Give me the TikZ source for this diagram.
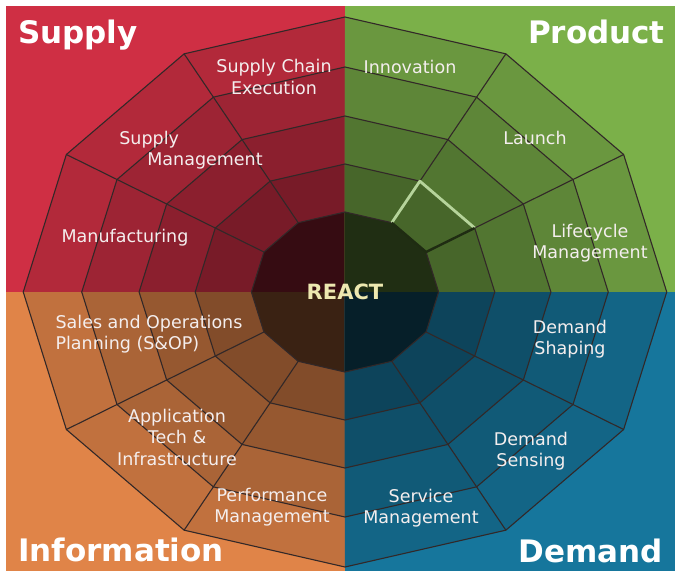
\documentclass[tikz,border=0pt]{standalone}
\usepackage{fontspec}
\setmainfont{DejaVu Sans}

\definecolor{supplyred}{RGB}{207,47,68}
\definecolor{productgreen}{RGB}{123,176,73}
\definecolor{infoorange}{RGB}{224,132,72}
\definecolor{demandblue}{RGB}{22,118,156}
\definecolor{webgray}{RGB}{50,40,40}
\definecolor{celltext}{RGB}{244,238,238}
\definecolor{reactcream}{RGB}{237,232,176}

\tikzstyle{quad-title} = [font=\fontsize{31}{36}\selectfont\bfseries, text=white, inner sep=0pt]
\tikzstyle{cell-text} = [font=\fontsize{17.5}{21.5}\selectfont, text=celltext, align=center, inner sep=0pt]
\tikzstyle{web-line} = [draw=webgray, line width=1.1pt]

\newcommand{\webring}[1]{(0:#1) \foreach \a in {30,60,...,330}{-- (\a:#1)} -- cycle}

\begin{document}
\begin{tikzpicture}[x=1pt, y=1pt]
  \useasboundingbox (-345,-282) rectangle (330,292);

  % quadrants, darker towards the middle
  \foreach \q/\cx/\cy in {supplyred/-339/286, productgreen/330/286, infoorange/-339/-279, demandblue/330/-279} {
    \begin{scope}
      \clip (0,0) rectangle (\cx,\cy);
      \fill[\q] (0,0) rectangle (\cx,\cy);
      \begin{scope}[xscale=1.17]
        \fill[\q!86!black] \webring{275};
        \fill[\q!76!black] \webring{225};
        \fill[\q!67!black] \webring{176};
        \fill[\q!58!black] \webring{128};
        \fill[\q!26!black] \webring{80};
      \end{scope}
    \end{scope}
  }

  % web
  \begin{scope}[xscale=1.17]
    \foreach \r in {80,128,176,225,275}
      \draw[web-line] \webring{\r};
    \foreach \s in {30,60,120,150,210,240,300,330}
      \draw[web-line] (\s:80) -- (\s:275);
    % raised cell
    \draw[draw=productgreen!55!white, line width=2.8pt, line join=round] (60:80) -- (60:128) -- (30:128);
    \draw[draw=productgreen!25!black, line width=2.4pt, line join=round] (30:128) -- (30:80) -- (60:80);
  \end{scope}

  \node (supply) [quad-title, anchor=base west] at (-327,249) {Supply};
  \node (product) [quad-title, anchor=base east] at (320,249) {Product};
  \node (information) [quad-title, anchor=base west] at (-327,-269) {Information};
  \node (demand) [quad-title, anchor=base east] at (318,-270) {Demand};

  \node (react) [font=\fontsize{21}{24}\selectfont\bfseries, text=reactcream, inner sep=0pt] at (0,0) {REACT};

  \node (sce) [cell-text] at (-71,215) {Supply Chain\\Execution};
  \node (supply-mgmt) [cell-text, align=left] at (-154,142) {Supply\\\hspace*{28pt}Management};
  \node (manuf) [cell-text] at (-220,54) {Manufacturing};
  \node (innov) [cell-text] at (65,225) {Innovation};
  \node (launch) [cell-text] at (190,154) {Launch};
  \node (lifecycle) [cell-text] at (245,49) {Lifecycle\\Management};
  \node (sop) [cell-text, align=left] at (-196,-42) {Sales and Operations\\Planning (S\&OP)};
  \node (apptech) [cell-text] at (-168,-145) {Application\\Tech \&\\Infrastructure};
  \node (perf) [cell-text] at (-73,-215) {Performance\\Management};
  \node (shaping) [cell-text] at (225,-47) {Demand\\Shaping};
  \node (sensing) [cell-text] at (186,-159) {Demand\\Sensing};
  \node (service) [cell-text] at (76,-216) {Service\\Management};
\end{tikzpicture}
\end{document}
